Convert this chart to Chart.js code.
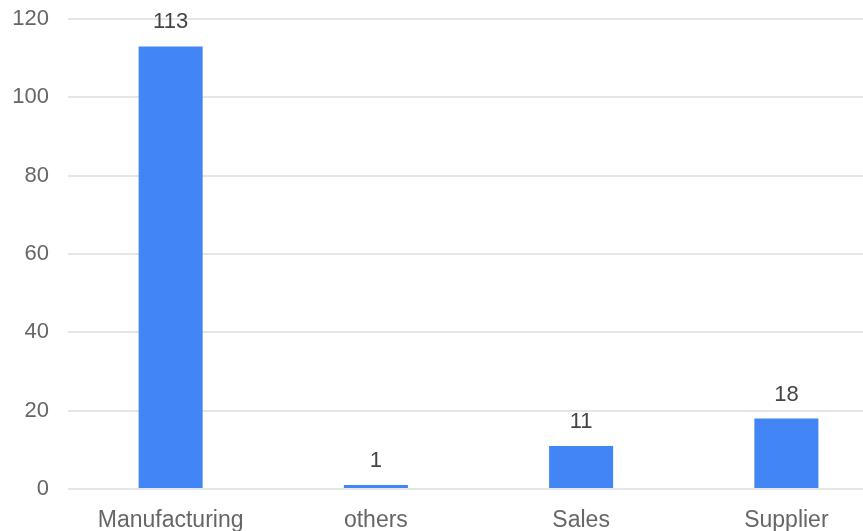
<!DOCTYPE html>
<html>
<head>
<meta charset="utf-8">
<script src="https://cdn.jsdelivr.net/npm/chart.js@4/dist/chart.umd.min.js"></script>
<style>
  html, body { margin: 0; padding: 0; background: #fff; overflow: hidden; }
  #wrap { position: relative; width: 890px; height: 531px; }
</style>
</head>
<body>
<div id="wrap"><canvas id="chart"></canvas></div>
<script>
// Headcount by department
const categories = ['Manufacturing', 'others', 'Sales', 'Supplier'];
const counts = [113, 1, 11, 18];
const yTicks = [0, 20, 40, 60, 80, 100, 120];

const FONT = "'Liberation Sans', Arial, sans-serif";

// Writes each bar's value above it
const valueLabels = {
  id: 'valueLabels',
  afterDatasetsDraw(chart) {
    const ctx = chart.ctx;
    const meta = chart.getDatasetMeta(0);
    ctx.save();
    ctx.font = '22px ' + FONT;
    ctx.fillStyle = '#444444';
    ctx.textAlign = 'center';
    ctx.textBaseline = 'middle';
    meta.data.forEach((bar, i) => {
      ctx.fillText(String(counts[i]), bar.x, bar.y - 24);
    });
    ctx.restore();
  }
};

new Chart(document.getElementById('chart'), {
  type: 'bar',
  data: {
    labels: categories,
    datasets: [{
      data: counts,
      backgroundColor: '#4285F4',
      borderWidth: 0,
      categoryPercentage: 1,
      barPercentage: 0.312
    }]
  },
  options: {
    responsive: true,
    maintainAspectRatio: false,
    animation: false,
    layout: { padding: { top: 19, right: 1, left: 0, bottom: 0 } },
    plugins: {
      legend: { display: false },
      tooltip: { enabled: false }
    },
    scales: {
      x: {
        grid: { display: false },
        border: { display: false },
        ticks: {
          color: '#666666',
          font: { family: FONT, size: 23 },
          padding: 10,
          maxRotation: 0
        },
        afterFit(scale) { scale.height = 42; }
      },
      y: {
        min: yTicks[0],
        max: yTicks[yTicks.length - 1],
        afterBuildTicks(scale) { scale.ticks = yTicks.map(v => ({ value: v })); },
        grid: { color: '#e6e6e6', lineWidth: 2, drawTicks: false },
        border: { display: false },
        ticks: {
          color: '#666666',
          font: { family: FONT, size: 22 },
          padding: 19
        },
        afterFit(scale) {
          scale.width = 68;
          // tick padding is horizontal only; keep the plot flush with the layout padding
          scale.paddingTop = 0;
          scale.paddingBottom = 0;
        }
      }
    }
  },
  plugins: [valueLabels]
});
</script>
</body>
</html>
